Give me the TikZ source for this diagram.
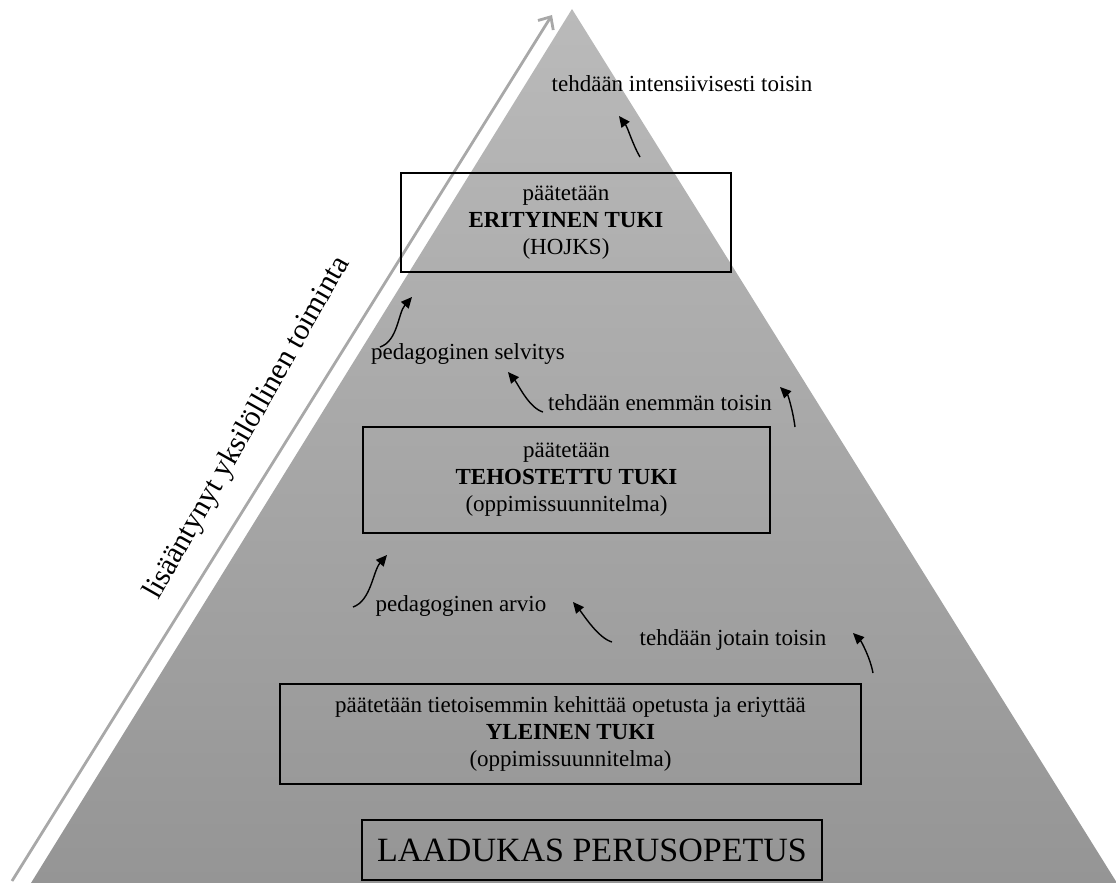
\documentclass[tikz,border=0pt]{standalone}
\usepackage{fontspec}
\setmainfont{Liberation Serif}
\usepackage{tikz}
\usetikzlibrary{arrows.meta,positioning}

\definecolor{pyrtop}{RGB}{186,186,186}
\definecolor{pyrbot}{RGB}{149,149,149}
\definecolor{arrgray}{RGB}{168,168,168}

\begin{document}
\begin{tikzpicture}[
  x=0.5pt, y=-0.5pt,
  txt/.style={font=\fontsize{11.5}{13.5}\selectfont},
  box/.style={txt, draw, line width=0.6pt, align=center, inner sep=0pt},
  lbl/.style={txt, inner sep=0pt},
  curv/.style={-{Triangle[length=5.5pt,width=5pt]}, line width=0.7pt},
  uparr/.style={arrgray, line width=1.4pt, -{Straight Barb[length=5pt,width=9pt]}}
]
\useasboundingbox (0,0) rectangle (1116,883);

% pyramid
\shade[top color=pyrtop, bottom color=pyrbot] (572,9) -- (1117,883) -- (31,883) -- cycle;

% side arrow
\coordinate (upS) at (12,881);
\coordinate (upE) at (552,15);
\draw[uparr] (upS) -- (upE);
\node[lbl, font=\fontsize{15}{17}\selectfont, rotate=60.5, anchor=base] (side) at (254,432)
  {lisääntynyt yksilöllinen toiminta};

% boxes
\node[box, minimum width=165pt, minimum height=49.5pt] (eri) at (566,222.5)
  {päätetään\\ \textbf{ERITYINEN TUKI}\\ (HOJKS)};
\node[box, minimum width=203.5pt, minimum height=53pt] (teh) at (566.5,480)
  {päätetään\\ \textbf{TEHOSTETTU TUKI}\\ (oppimissuunnitelma)};
\node[box, minimum width=290.5pt, minimum height=50pt] (yle) at (570.5,734)
  {päätetään tietoisemmin kehittää opetusta ja eriyttää\\ \textbf{YLEINEN TUKI}\\ (oppimissuunnitelma)};
\node[box, minimum width=230pt, minimum height=30pt, font=\fontsize{17}{19}\selectfont] (laa) at (592,850)
  {LAADUKAS PERUSOPETUS};

% labels
\node[lbl] (intens) at (682,84) {tehdään intensiivisesti toisin};
\node[lbl] (selv) at (468,354) {pedagoginen selvitys};
\node[lbl] (enem) at (660,403) {tehdään enemmän toisin};
\node[lbl] (arvio) at (461,606) {pedagoginen arvio};
\node[lbl] (jot) at (733,640) {tehdään jotain toisin};

% curved arrows
\coordinate (a1s) at (640,157); \coordinate (a1e) at (619,116);
\coordinate (a2s) at (380,347); \coordinate (a2e) at (412,297);
\coordinate (a3s) at (543,412); \coordinate (a3e) at (508,372);
\coordinate (a4s) at (795,427); \coordinate (a4e) at (780,387);
\coordinate (a5s) at (353,607); \coordinate (a5e) at (387,555);
\coordinate (a6s) at (612,642); \coordinate (a6e) at (573,602);
\coordinate (a7s) at (873,673); \coordinate (a7e) at (853,633);

\draw[curv] (a1s) .. controls +(-8,-14) and +(9,12) .. (a1e);
\draw[curv] (a2s) .. controls +(18,-6) and +(-14,16) .. (a2e);
\draw[curv] (a3s) .. controls +(-14,-4) and +(10,12) .. (a3e);
\draw[curv] (a4s) .. controls +(-2,-16) and +(8,8) .. (a4e);
\draw[curv] (a5s) .. controls +(18,-6) and +(-14,16) .. (a5e);
\draw[curv] (a6s) .. controls +(-14,-4) and +(10,12) .. (a6e);
\draw[curv] (a7s) .. controls +(-3,-16) and +(8,8) .. (a7e);
\end{tikzpicture}
\end{document}
